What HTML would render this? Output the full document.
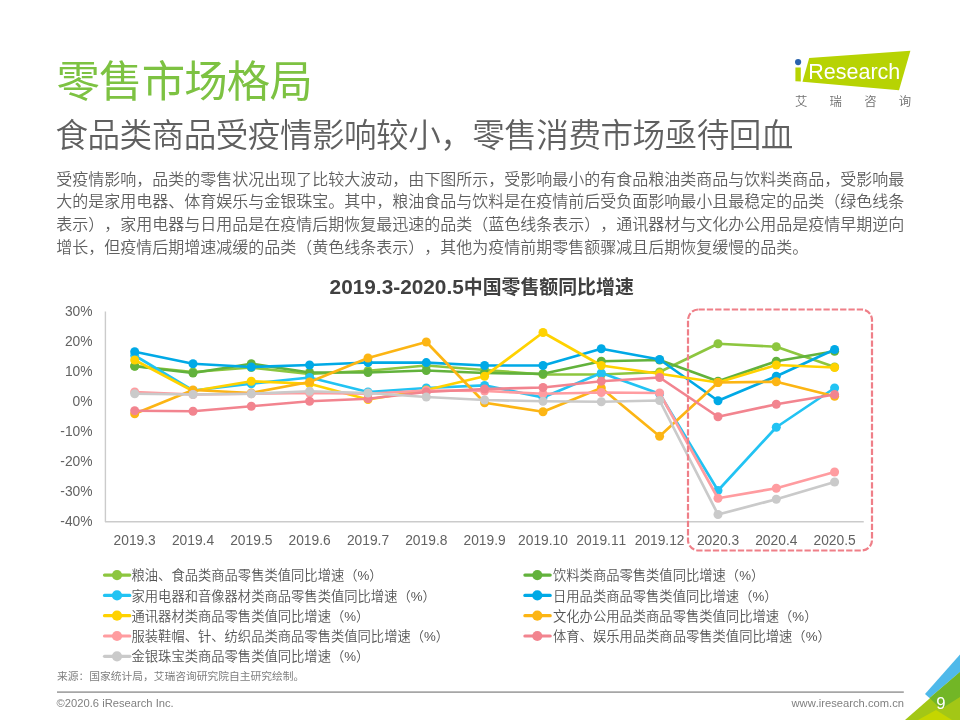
<!DOCTYPE html>
<html lang="zh-CN"><head><meta charset="utf-8"><title>零售市场格局</title>
<style>
html,body{margin:0;padding:0;background:#fff;}
body{width:960px;height:720px;position:relative;overflow:hidden;font-family:"Liberation Sans","Noto Sans CJK SC",sans-serif;color:#595959;}
div{position:absolute;white-space:nowrap;text-spacing-trim:space-all;font-kerning:none;}
#title{left:56.5px;top:49.7px;font-size:43.4px;letter-spacing:-0.8px;line-height:64px;color:#7dc242;font-weight:400;}
#sub{left:55.5px;top:110.5px;font-size:32.6px;letter-spacing:-0.52px;line-height:50px;color:#606060;font-weight:350;}
#body{left:56.3px;top:168.5px;width:860px;font-size:16px;line-height:22.8px;color:#606060;white-space:normal;font-weight:350;}
#body span{display:block;white-space:nowrap;}
#ct{left:281.7px;width:400px;top:273px;text-align:center;font-size:18.9px;line-height:28px;font-weight:bold;color:#404040;}
#ct span{font-size:20.8px;}
.yl{left:40px;width:52.5px;text-align:right;font-size:13.8px;line-height:18px;color:#626262;}
.xl{top:531.5px;width:80px;text-align:center;font-size:13.8px;line-height:18px;color:#626262;}
.lg{font-size:13.3px;line-height:20px;color:#555;font-weight:350;}
#src{left:57px;top:668px;font-size:10.75px;line-height:16px;color:#7f7f7f;}
#cp{left:56.6px;top:695px;font-size:11.2px;line-height:16px;color:#808080;}
#www{right:56px;top:695px;font-size:11.2px;line-height:16px;color:#808080;}
#pg{left:931px;width:20px;text-align:center;top:693px;font-size:16.7px;line-height:22px;color:#fff;}
#logo-t{left:808.3px;top:57.8px;font-size:21.5px;line-height:28px;color:#fff;letter-spacing:0px;}
#logo-c{left:795px;top:95px;font-size:12.4px;line-height:14px;color:#707070;letter-spacing:22.2px;font-weight:350;}
svg{position:absolute;left:0;top:0;}
</style></head><body>
<svg width="960" height="720" viewBox="0 0 960 720">
<!-- logo -->
<polygon points="809.2,57.9 910.4,50.8 899,90.3 802.5,81.7" fill="#b7d303"/>
<polygon points="795.4,67.5 800.8,67.5 800.8,81.6 795.4,81.2" fill="#b7d303"/>
<circle cx="798.1" cy="62.1" r="3.1" fill="#2a63ad"/>
<!-- axes -->
<line x1="105.4" x2="105.4" y1="311.5" y2="522" stroke="#cbcbcb" stroke-width="1.4"/>
<line x1="105" x2="863.75" y1="521.7" y2="521.7" stroke="#cbcbcb" stroke-width="1.4"/>
<polyline points="134.7,366.00 193.0,372.00 251.3,367.50 309.6,374.00 368.0,370.75 426.3,365.50 484.6,370.00 543.0,374.50 601.3,374.50 659.6,372.00 718.0,343.75 776.3,346.75 834.6,367.00" fill="none" stroke="#8dc63f" stroke-width="2.7" stroke-linejoin="round" stroke-linecap="round"/>
<g fill="#8dc63f"><circle cx="134.7" cy="366.00" r="4.5"/><circle cx="193.0" cy="372.00" r="4.5"/><circle cx="251.3" cy="367.50" r="4.5"/><circle cx="309.6" cy="374.00" r="4.5"/><circle cx="368.0" cy="370.75" r="4.5"/><circle cx="426.3" cy="365.50" r="4.5"/><circle cx="484.6" cy="370.00" r="4.5"/><circle cx="543.0" cy="374.50" r="4.5"/><circle cx="601.3" cy="374.50" r="4.5"/><circle cx="659.6" cy="372.00" r="4.5"/><circle cx="718.0" cy="343.75" r="4.5"/><circle cx="776.3" cy="346.75" r="4.5"/><circle cx="834.6" cy="367.00" r="4.5"/></g>
<polyline points="134.7,366.25 193.0,373.00 251.3,363.75 309.6,372.50 368.0,372.50 426.3,370.50 484.6,373.00 543.0,373.75 601.3,361.25 659.6,360.00 718.0,381.25 776.3,361.25 834.6,351.25" fill="none" stroke="#62b23c" stroke-width="2.7" stroke-linejoin="round" stroke-linecap="round"/>
<g fill="#62b23c"><circle cx="134.7" cy="366.25" r="4.5"/><circle cx="193.0" cy="373.00" r="4.5"/><circle cx="251.3" cy="363.75" r="4.5"/><circle cx="309.6" cy="372.50" r="4.5"/><circle cx="368.0" cy="372.50" r="4.5"/><circle cx="426.3" cy="370.50" r="4.5"/><circle cx="484.6" cy="373.00" r="4.5"/><circle cx="543.0" cy="373.75" r="4.5"/><circle cx="601.3" cy="361.25" r="4.5"/><circle cx="659.6" cy="360.00" r="4.5"/><circle cx="718.0" cy="381.25" r="4.5"/><circle cx="776.3" cy="361.25" r="4.5"/><circle cx="834.6" cy="351.25" r="4.5"/></g>
<polyline points="134.7,355.50 193.0,390.50 251.3,383.75 309.6,377.50 368.0,392.00 426.3,388.00 484.6,385.40 543.0,397.50 601.3,373.00 659.6,393.75 718.0,490.50 776.3,427.25 834.6,388.00" fill="none" stroke="#22c3f3" stroke-width="2.7" stroke-linejoin="round" stroke-linecap="round"/>
<g fill="#22c3f3"><circle cx="134.7" cy="355.50" r="4.5"/><circle cx="193.0" cy="390.50" r="4.5"/><circle cx="251.3" cy="383.75" r="4.5"/><circle cx="309.6" cy="377.50" r="4.5"/><circle cx="368.0" cy="392.00" r="4.5"/><circle cx="426.3" cy="388.00" r="4.5"/><circle cx="484.6" cy="385.40" r="4.5"/><circle cx="543.0" cy="397.50" r="4.5"/><circle cx="601.3" cy="373.00" r="4.5"/><circle cx="659.6" cy="393.75" r="4.5"/><circle cx="718.0" cy="490.50" r="4.5"/><circle cx="776.3" cy="427.25" r="4.5"/><circle cx="834.6" cy="388.00" r="4.5"/></g>
<polyline points="134.7,351.75 193.0,363.75 251.3,367.00 309.6,365.00 368.0,362.50 426.3,362.60 484.6,365.50 543.0,365.50 601.3,348.75 659.6,359.50 718.0,400.75 776.3,376.25 834.6,349.50" fill="none" stroke="#00a9e6" stroke-width="2.7" stroke-linejoin="round" stroke-linecap="round"/>
<g fill="#00a9e6"><circle cx="134.7" cy="351.75" r="4.5"/><circle cx="193.0" cy="363.75" r="4.5"/><circle cx="251.3" cy="367.00" r="4.5"/><circle cx="309.6" cy="365.00" r="4.5"/><circle cx="368.0" cy="362.50" r="4.5"/><circle cx="426.3" cy="362.60" r="4.5"/><circle cx="484.6" cy="365.50" r="4.5"/><circle cx="543.0" cy="365.50" r="4.5"/><circle cx="601.3" cy="348.75" r="4.5"/><circle cx="659.6" cy="359.50" r="4.5"/><circle cx="718.0" cy="400.75" r="4.5"/><circle cx="776.3" cy="376.25" r="4.5"/><circle cx="834.6" cy="349.50" r="4.5"/></g>
<polyline points="134.7,360.00 193.0,391.00 251.3,381.25 309.6,383.75 368.0,399.50 426.3,390.00 484.6,376.20 543.0,332.50 601.3,365.50 659.6,373.75 718.0,382.50 776.3,365.00 834.6,367.50" fill="none" stroke="#ffd200" stroke-width="2.7" stroke-linejoin="round" stroke-linecap="round"/>
<g fill="#ffd200"><circle cx="134.7" cy="360.00" r="4.5"/><circle cx="193.0" cy="391.00" r="4.5"/><circle cx="251.3" cy="381.25" r="4.5"/><circle cx="309.6" cy="383.75" r="4.5"/><circle cx="368.0" cy="399.50" r="4.5"/><circle cx="426.3" cy="390.00" r="4.5"/><circle cx="484.6" cy="376.20" r="4.5"/><circle cx="543.0" cy="332.50" r="4.5"/><circle cx="601.3" cy="365.50" r="4.5"/><circle cx="659.6" cy="373.75" r="4.5"/><circle cx="718.0" cy="382.50" r="4.5"/><circle cx="776.3" cy="365.00" r="4.5"/><circle cx="834.6" cy="367.50" r="4.5"/></g>
<polyline points="134.7,413.75 193.0,390.00 251.3,393.00 309.6,382.00 368.0,358.00 426.3,342.00 484.6,402.75 543.0,411.75 601.3,388.00 659.6,436.25 718.0,382.50 776.3,381.75 834.6,396.25" fill="none" stroke="#fcb514" stroke-width="2.7" stroke-linejoin="round" stroke-linecap="round"/>
<g fill="#fcb514"><circle cx="134.7" cy="413.75" r="4.5"/><circle cx="193.0" cy="390.00" r="4.5"/><circle cx="251.3" cy="393.00" r="4.5"/><circle cx="309.6" cy="382.00" r="4.5"/><circle cx="368.0" cy="358.00" r="4.5"/><circle cx="426.3" cy="342.00" r="4.5"/><circle cx="484.6" cy="402.75" r="4.5"/><circle cx="543.0" cy="411.75" r="4.5"/><circle cx="601.3" cy="388.00" r="4.5"/><circle cx="659.6" cy="436.25" r="4.5"/><circle cx="718.0" cy="382.50" r="4.5"/><circle cx="776.3" cy="381.75" r="4.5"/><circle cx="834.6" cy="396.25" r="4.5"/></g>
<polyline points="134.7,392.00 193.0,394.50 251.3,393.75 309.6,393.00 368.0,393.75 426.3,390.50 484.6,391.00 543.0,393.75 601.3,392.50 659.6,393.00 718.0,498.25 776.3,488.25 834.6,472.00" fill="none" stroke="#ff9ca0" stroke-width="2.7" stroke-linejoin="round" stroke-linecap="round"/>
<g fill="#ff9ca0"><circle cx="134.7" cy="392.00" r="4.5"/><circle cx="193.0" cy="394.50" r="4.5"/><circle cx="251.3" cy="393.75" r="4.5"/><circle cx="309.6" cy="393.00" r="4.5"/><circle cx="368.0" cy="393.75" r="4.5"/><circle cx="426.3" cy="390.50" r="4.5"/><circle cx="484.6" cy="391.00" r="4.5"/><circle cx="543.0" cy="393.75" r="4.5"/><circle cx="601.3" cy="392.50" r="4.5"/><circle cx="659.6" cy="393.00" r="4.5"/><circle cx="718.0" cy="498.25" r="4.5"/><circle cx="776.3" cy="488.25" r="4.5"/><circle cx="834.6" cy="472.00" r="4.5"/></g>
<polyline points="134.7,410.75 193.0,411.25 251.3,406.25 309.6,401.25 368.0,398.75 426.3,392.00 484.6,389.00 543.0,387.50 601.3,381.25 659.6,377.50 718.0,416.75 776.3,404.25 834.6,394.50" fill="none" stroke="#f2848f" stroke-width="2.7" stroke-linejoin="round" stroke-linecap="round"/>
<g fill="#f2848f"><circle cx="134.7" cy="410.75" r="4.5"/><circle cx="193.0" cy="411.25" r="4.5"/><circle cx="251.3" cy="406.25" r="4.5"/><circle cx="309.6" cy="401.25" r="4.5"/><circle cx="368.0" cy="398.75" r="4.5"/><circle cx="426.3" cy="392.00" r="4.5"/><circle cx="484.6" cy="389.00" r="4.5"/><circle cx="543.0" cy="387.50" r="4.5"/><circle cx="601.3" cy="381.25" r="4.5"/><circle cx="659.6" cy="377.50" r="4.5"/><circle cx="718.0" cy="416.75" r="4.5"/><circle cx="776.3" cy="404.25" r="4.5"/><circle cx="834.6" cy="394.50" r="4.5"/></g>
<polyline points="134.7,393.75 193.0,394.50 251.3,393.75 309.6,391.25 368.0,393.00 426.3,397.00 484.6,400.00 543.0,401.25 601.3,401.75 659.6,400.50 718.0,514.50 776.3,499.25 834.6,482.00" fill="none" stroke="#cacaca" stroke-width="2.7" stroke-linejoin="round" stroke-linecap="round"/>
<g fill="#cacaca"><circle cx="134.7" cy="393.75" r="4.5"/><circle cx="193.0" cy="394.50" r="4.5"/><circle cx="251.3" cy="393.75" r="4.5"/><circle cx="309.6" cy="391.25" r="4.5"/><circle cx="368.0" cy="393.00" r="4.5"/><circle cx="426.3" cy="397.00" r="4.5"/><circle cx="484.6" cy="400.00" r="4.5"/><circle cx="543.0" cy="401.25" r="4.5"/><circle cx="601.3" cy="401.75" r="4.5"/><circle cx="659.6" cy="400.50" r="4.5"/><circle cx="718.0" cy="514.50" r="4.5"/><circle cx="776.3" cy="499.25" r="4.5"/><circle cx="834.6" cy="482.00" r="4.5"/></g>
<rect x="688" y="309.5" width="184" height="241" rx="10.5" ry="10.5" fill="none" stroke="#ef7f88" stroke-width="2.2" stroke-dasharray="6.3 2.03"/>
<line x1="104.5" x2="129.8" y1="575.1" y2="575.1" stroke="#8dc63f" stroke-width="3.2" stroke-linecap="round"/><circle cx="117" cy="575.1" r="5.1" fill="#8dc63f"/><line x1="104.5" x2="129.8" y1="595.4" y2="595.4" stroke="#22c3f3" stroke-width="3.2" stroke-linecap="round"/><circle cx="117" cy="595.4" r="5.1" fill="#22c3f3"/><line x1="104.5" x2="129.8" y1="615.7" y2="615.7" stroke="#ffd200" stroke-width="3.2" stroke-linecap="round"/><circle cx="117" cy="615.7" r="5.1" fill="#ffd200"/><line x1="104.5" x2="129.8" y1="636.0" y2="636.0" stroke="#ff9ca0" stroke-width="3.2" stroke-linecap="round"/><circle cx="117" cy="636.0" r="5.1" fill="#ff9ca0"/><line x1="104.5" x2="129.8" y1="656.3" y2="656.3" stroke="#cacaca" stroke-width="3.2" stroke-linecap="round"/><circle cx="117" cy="656.3" r="5.1" fill="#cacaca"/><line x1="524.9" x2="550.2" y1="575.1" y2="575.1" stroke="#62b23c" stroke-width="3.2" stroke-linecap="round"/><circle cx="537.3" cy="575.1" r="5.1" fill="#62b23c"/><line x1="524.9" x2="550.2" y1="595.4" y2="595.4" stroke="#00a9e6" stroke-width="3.2" stroke-linecap="round"/><circle cx="537.3" cy="595.4" r="5.1" fill="#00a9e6"/><line x1="524.9" x2="550.2" y1="615.7" y2="615.7" stroke="#fcb514" stroke-width="3.2" stroke-linecap="round"/><circle cx="537.3" cy="615.7" r="5.1" fill="#fcb514"/><line x1="524.9" x2="550.2" y1="636.0" y2="636.0" stroke="#f2848f" stroke-width="3.2" stroke-linecap="round"/><circle cx="537.3" cy="636.0" r="5.1" fill="#f2848f"/>
<!-- footer -->
<line x1="57" x2="903.8" y1="692.1" y2="692.1" stroke="#a6a6a6" stroke-width="1.6"/>
<polygon points="905,720 960,672 960,720" fill="#a3c716"/>
<polygon points="925,694 960,654.5 960,672 929.5,698" fill="#4fb9ea"/>
<polygon points="929.5,698 960,672 960,697 941,709" fill="#72b626"/>
<polygon points="918,720 936,710 952,720" fill="#c5d600"/>
</svg>
<div id="title">零售市场格局</div>
<div id="sub">食品类商品受疫情影响较小，零售消费市场亟待回血</div>
<div id="body"><span>受疫情影响，品类的零售状况出现了比较大波动，由下图所示，受影响最小的有食品粮油类商品与饮料类商品，受影响最</span><span>大的是家用电器、体育娱乐与金银珠宝。其中，粮油食品与饮料是在疫情前后受负面影响最小且最稳定的品类（绿色线条</span><span>表示），家用电器与日用品是在疫情后期恢复最迅速的品类（蓝色线条表示），通讯器材与文化办公用品是疫情早期逆向</span><span>增长，但疫情后期增速减缓的品类（黄色线条表示），其他为疫情前期零售额骤减且后期恢复缓慢的品类。</span></div>
<div id="ct"><span>2019.3-2020.5</span>中国零售额同比增速</div>
<div class="yl" style="top:302.5px">30%</div><div class="yl" style="top:332.5px">20%</div><div class="yl" style="top:362.5px">10%</div><div class="yl" style="top:392.5px">0%</div><div class="yl" style="top:422.5px">-10%</div><div class="yl" style="top:452.5px">-20%</div><div class="yl" style="top:482.5px">-30%</div><div class="yl" style="top:512.5px">-40%</div>
<div class="xl" style="left:94.7px">2019.3</div><div class="xl" style="left:153.0px">2019.4</div><div class="xl" style="left:211.3px">2019.5</div><div class="xl" style="left:269.6px">2019.6</div><div class="xl" style="left:328.0px">2019.7</div><div class="xl" style="left:386.3px">2019.8</div><div class="xl" style="left:444.6px">2019.9</div><div class="xl" style="left:503.0px">2019.10</div><div class="xl" style="left:561.3px">2019.11</div><div class="xl" style="left:619.6px">2019.12</div><div class="xl" style="left:678.0px">2020.3</div><div class="xl" style="left:736.3px">2020.4</div><div class="xl" style="left:794.6px">2020.5</div>
<div class="lg" style="left:131.5px;top:566.2px">粮油、食品类商品零售类值同比增速（%）</div><div class="lg" style="left:131.5px;top:586.5px">家用电器和音像器材类商品零售类值同比增速（%）</div><div class="lg" style="left:131.5px;top:606.8px">通讯器材类商品零售类值同比增速（%）</div><div class="lg" style="left:131.5px;top:627.1px">服装鞋帽、针、纺织品类商品零售类值同比增速（%）</div><div class="lg" style="left:131.5px;top:647.4px">金银珠宝类商品零售类值同比增速（%）</div><div class="lg" style="left:553px;top:566.2px">饮料类商品零售类值同比增速（%）</div><div class="lg" style="left:553px;top:586.5px">日用品类商品零售类值同比增速（%）</div><div class="lg" style="left:553px;top:606.8px">文化办公用品类商品零售类值同比增速（%）</div><div class="lg" style="left:553px;top:627.1px">体育、娱乐用品类商品零售类值同比增速（%）</div>
<div id="src">来源：国家统计局，艾瑞咨询研究院自主研究绘制。</div>
<div id="cp">©2020.6 iResearch Inc.</div>
<div id="www">www.iresearch.com.cn</div>
<div id="pg">9</div>
<div id="logo-t">Research</div>
<div id="logo-c">艾瑞咨询</div>
</body></html>
